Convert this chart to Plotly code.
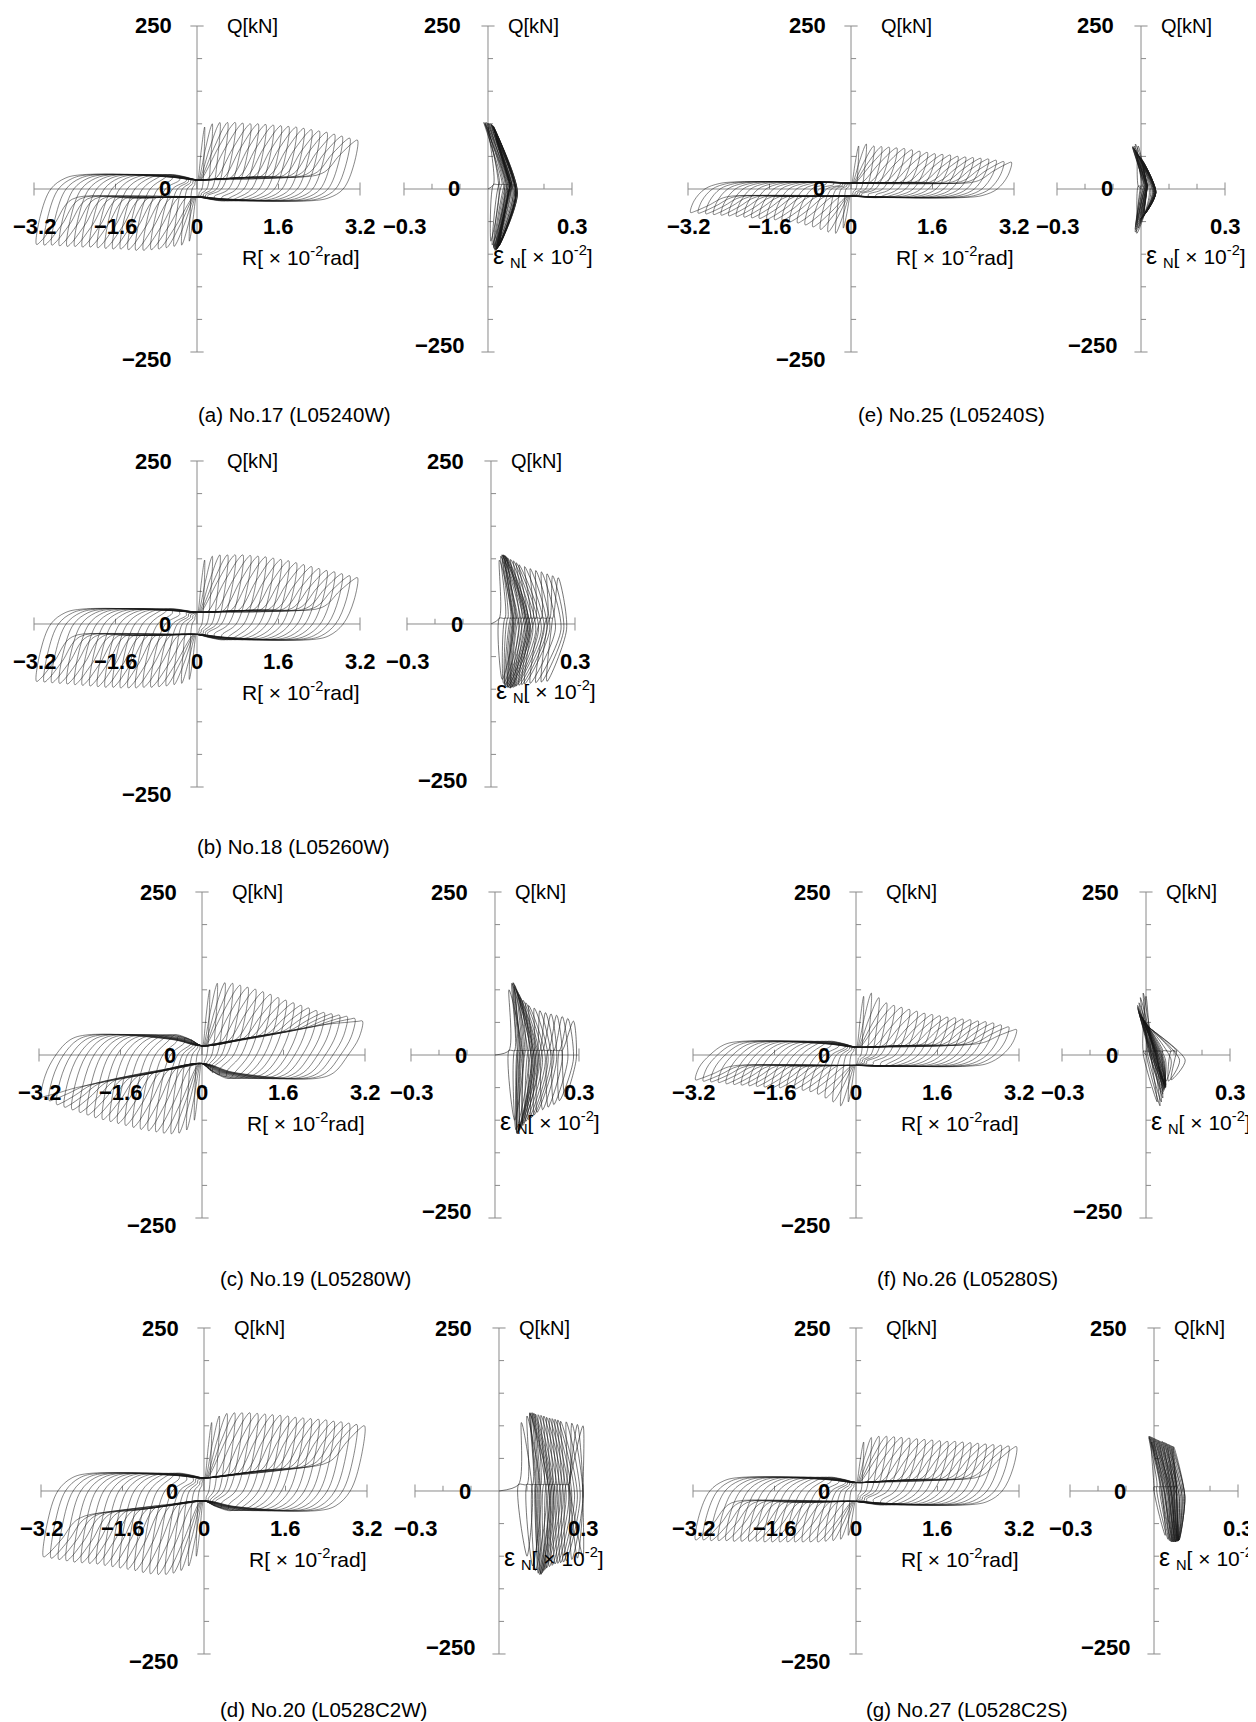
import plotly.graph_objects as go

FIG_W, FIG_H = 1256, 1722

# ---------------- data ----------------
# drift amplitude of each loading cycle  [x10^-2 rad]
R_AMP = [0.15, 0.30, 0.45, 0.60, 0.75, 0.90, 1.05, 1.20, 1.35, 1.50, 1.65,
         1.80, 1.95, 2.10, 2.25, 2.40, 2.55, 2.70, 2.85, 3.00, 3.15]

CAPTION_A = "(a) No.17 (L05240W)"
CAPTION_B = "(b) No.18 (L05260W)"
CAPTION_C = "(c) No.19 (L05280W)"
CAPTION_D = "(d) No.20 (L0528C2W)"
CAPTION_E = "(e) No.25 (L05240S)"
CAPTION_F = "(f) No.26 (L05280S)"
CAPTION_G = "(g) No.27 (L0528C2S)"

# peak shear force of each cycle, positive / negative side [kN]
QP_A = [95, 100, 102, 102, 102, 101, 100, 100, 99, 98, 97, 96, 95, 93, 91, 89, 87, 84, 81, 78, 75]
QN_A = [-80, -86, -88, -90, -92, -93, -94, -94, -93, -92, -92, -91, -90, -89, -89, -88, -88, -87, -86, -86, -85]
QP_B = [98, 104, 106, 106, 106, 106, 105, 104, 103, 101, 99, 97, 94, 91, 88, 85, 82, 80, 77, 74, 71]
QN_B = [-85, -91, -93, -95, -96, -97, -97, -98, -98, -98, -97, -97, -96, -95, -94, -93, -92, -91, -90, -89, -88]
QP_C = [100, 110, 111, 110, 107, 104, 101, 97, 93, 88, 84, 80, 76, 72, 68, 65, 63, 61, 59, 56, 52]
QN_C = [-100, -115, -120, -121, -120, -118, -116, -114, -111, -108, -105, -102, -99, -96, -92, -88, -84, -80, -76, -70, -64]
QP_D = [105, 115, 119, 120, 120, 120, 119, 118, 117, 116, 115, 113, 112, 111, 110, 109, 107, 106, 104, 102, 100]
QN_D = [-100, -115, -122, -126, -128, -128, -127, -125, -122, -120, -118, -116, -114, -112, -111, -110, -109, -107, -105, -103, -101]
QP_E = [66, 69, 66, 65, 64, 63, 62, 60, 58, 56, 54, 53, 52, 50, 49, 48, 47, 46, 44, 42, 41]
QN_E = [-60, -68, -66, -62, -58, -55, -52, -50, -48, -47, -46, -45, -44, -43, -42, -41, -40, -39, -38, -37, -36]
QP_F = [90, 95, 88, 80, 76, 73, 70, 67, 64, 62, 60, 58, 57, 55, 54, 52, 51, 49, 46, 43, 39]
QN_F = [-72, -78, -72, -66, -60, -56, -54, -52, -51, -50, -50, -49, -48, -47, -46, -45, -44, -42, -41, -40, -38]
QP_G = [75, 82, 84, 84, 83, 82, 81, 80, 79, 78, 77, 76, 76, 75, 74, 73, 72, 71, 70, 69, 68]
QN_G = [-68, -74, -76, -77, -78, -78, -78, -78, -78, -78, -78, -78, -77, -77, -77, -77, -76, -76, -76, -75, -75]

# slip plateaus [kN]: upper line at R=0, its slope, bottom of positive loops,
#                     lower line at R=0, its slope, top of negative loops
PINCH_A = [14, 4.0, -18, -12, 1.5, 22]
PINCH_B = [18, 3.0, -24, -16, 1.5, 23]
PINCH_C = [14, 13.5, -36, -13, 15.0, 31]
PINCH_D = [20, 10.0, -30, -15, 11.0, 27]
PINCH_E = [9, 1.0, -13, -11, 0.5, 11]
PINCH_F = [12, 2.5, -17, -16, 0.5, 21]
PINCH_G = [13, 4.0, -21, -16, 1.0, 21]

# axial strain eps_N [x10^-2] of each cycle at positive peak, near Q=0, at negative peak
ET_A = [0.00, -0.01, -0.015, -0.01, -0.005, 0.0, 0.005, 0.01, 0.012, 0.015, 0.018, 0.02, 0.02, 0.022, 0.024, 0.025, 0.026, 0.027, 0.028, 0.03, 0.03]
EM_A = [0.04, 0.06, 0.07, 0.08, 0.085, 0.09, 0.09, 0.095, 0.095, 0.10, 0.10, 0.10, 0.10, 0.10, 0.105, 0.105, 0.105, 0.10, 0.10, 0.10, 0.10]
EB_A = [0.01, 0.015, 0.02, 0.02, 0.022, 0.025, 0.025, 0.028, 0.03, 0.03, 0.032, 0.032, 0.035, 0.035, 0.035, 0.038, 0.038, 0.04, 0.04, 0.04, 0.04]
ET_B = [0.03, 0.035, 0.04, 0.04, 0.045, 0.045, 0.05, 0.05, 0.055, 0.06, 0.07, 0.08, 0.09, 0.10, 0.12, 0.14, 0.16, 0.18, 0.20, 0.22, 0.24]
EM_B = [0.08, 0.10, 0.11, 0.12, 0.125, 0.13, 0.13, 0.135, 0.14, 0.14, 0.15, 0.16, 0.17, 0.18, 0.19, 0.20, 0.21, 0.23, 0.25, 0.26, 0.27]
EB_B = [0.04, 0.045, 0.05, 0.05, 0.055, 0.06, 0.06, 0.065, 0.07, 0.07, 0.075, 0.08, 0.085, 0.09, 0.10, 0.11, 0.12, 0.14, 0.16, 0.18, 0.20]
ET_C = [0.05, 0.06, 0.065, 0.065, 0.07, 0.07, 0.075, 0.08, 0.085, 0.09, 0.10, 0.11, 0.12, 0.14, 0.16, 0.18, 0.20, 0.22, 0.24, 0.26, 0.28]
EM_C = [0.10, 0.12, 0.13, 0.13, 0.135, 0.14, 0.14, 0.145, 0.15, 0.155, 0.16, 0.17, 0.18, 0.19, 0.20, 0.21, 0.22, 0.24, 0.26, 0.28, 0.29]
EB_C = [0.07, 0.075, 0.078, 0.08, 0.08, 0.08, 0.085, 0.09, 0.09, 0.10, 0.10, 0.11, 0.12, 0.13, 0.14, 0.15, 0.17, 0.19, 0.21, 0.23, 0.25]
ET_D = [0.08, 0.10, 0.11, 0.11, 0.115, 0.12, 0.125, 0.13, 0.14, 0.15, 0.16, 0.17, 0.18, 0.19, 0.20, 0.21, 0.22, 0.24, 0.26, 0.28, 0.30]
EM_D = [0.12, 0.15, 0.17, 0.18, 0.18, 0.185, 0.19, 0.195, 0.20, 0.21, 0.22, 0.23, 0.24, 0.25, 0.26, 0.27, 0.28, 0.29, 0.30, 0.30, 0.30]
EB_D = [0.10, 0.12, 0.13, 0.14, 0.145, 0.15, 0.15, 0.155, 0.16, 0.165, 0.17, 0.18, 0.19, 0.20, 0.21, 0.22, 0.23, 0.24, 0.26, 0.28, 0.30]
ET_E = [-0.01, -0.02, -0.025, -0.03, -0.03, -0.028, -0.025, -0.022, -0.02, -0.018, -0.015, -0.012, -0.01, -0.008, -0.005, -0.003, 0.0, 0.002, 0.004, 0.006, 0.007]
EM_E = [0.02, 0.03, 0.035, 0.04, 0.042, 0.045, 0.045, 0.047, 0.048, 0.05, 0.05, 0.05, 0.05, 0.052, 0.052, 0.053, 0.053, 0.053, 0.053, 0.053, 0.053]
EB_E = [-0.01, -0.015, -0.02, -0.02, -0.018, -0.015, -0.012, -0.01, -0.008, -0.005, -0.003, 0.0, 0.002, 0.004, 0.006, 0.008, 0.01, 0.011, 0.012, 0.013, 0.014]
ET_F = [0.0, -0.01, -0.02, -0.025, -0.03, -0.03, -0.028, -0.026, -0.024, -0.02, -0.018, -0.015, -0.012, -0.01, -0.008, -0.005, -0.003, 0.0, 0.005, 0.01, 0.02]
EM_F = [0.02, 0.03, 0.035, 0.04, 0.04, 0.042, 0.045, 0.045, 0.047, 0.05, 0.05, 0.052, 0.055, 0.057, 0.06, 0.062, 0.065, 0.07, 0.09, 0.12, 0.14]
EB_F = [0.04, 0.05, 0.055, 0.06, 0.06, 0.062, 0.065, 0.065, 0.067, 0.068, 0.07, 0.07, 0.07, 0.07, 0.07, 0.068, 0.066, 0.065, 0.07, 0.08, 0.09]
ET_G = [-0.01, -0.018, -0.018, -0.015, -0.01, -0.005, 0.0, 0.005, 0.01, 0.015, 0.02, 0.025, 0.03, 0.035, 0.04, 0.045, 0.05, 0.055, 0.06, 0.065, 0.07]
EM_G = [0.03, 0.04, 0.05, 0.055, 0.06, 0.065, 0.065, 0.07, 0.075, 0.08, 0.08, 0.085, 0.09, 0.09, 0.095, 0.10, 0.10, 0.105, 0.11, 0.11, 0.11]
EB_G = [0.04, 0.05, 0.055, 0.06, 0.062, 0.065, 0.068, 0.07, 0.072, 0.075, 0.077, 0.078, 0.08, 0.082, 0.084, 0.085, 0.086, 0.087, 0.088, 0.089, 0.09]
# strain shift between loading and unloading branch near Q=0
ED = {"A": -0.02, "B": -0.05, "C": -0.05, "D": -0.05, "E": -0.03, "F": -0.03, "G": -0.03}

SPEC = {
    "A": (CAPTION_A, QP_A, QN_A, PINCH_A, ET_A, EM_A, EB_A),
    "B": (CAPTION_B, QP_B, QN_B, PINCH_B, ET_B, EM_B, EB_B),
    "C": (CAPTION_C, QP_C, QN_C, PINCH_C, ET_C, EM_C, EB_C),
    "D": (CAPTION_D, QP_D, QN_D, PINCH_D, ET_D, EM_D, EB_D),
    "E": (CAPTION_E, QP_E, QN_E, PINCH_E, ET_E, EM_E, EB_E),
    "F": (CAPTION_F, QP_F, QN_F, PINCH_F, ET_F, EM_F, EB_F),
    "G": (CAPTION_G, QP_G, QN_G, PINCH_G, ET_G, EM_G, EB_G),
}

# ---------------- layout (pixels) ----------------
# key: (left-plot y axis x, right-plot y axis x, zero line y, caption x, caption y)
PLACE = {
    "A": (189, 480, 181, 286, 406),
    "B": (189, 483, 616, 285, 838),
    "C": (194, 487, 1047, 307, 1270),
    "D": (196, 491, 1483, 315, 1701),
    "E": (843, 1133, 181, 943, 406),
    "F": (848, 1138, 1047, 959, 1270),
    "G": (848, 1146, 1483, 959, 1701),
}
PX_PER_UNIT_R = 163 / 3.2
PX_PER_UNIT_E = 84 / 0.3
PX_PER_KN = 163 / 250
XR_R = 3.6
XR_E = 0.34
YR = 270

FONT = "Liberation Sans Narrow, Arial Narrow, Liberation Sans, Arial, sans-serif"
LOOP_COLOR = "rgba(25,25,25,0.75)"
AXIS_COLOR = "#8a8a8a"


def loop_path(qp, qn, pinch, w=0.7):
    u0, us, lp, l0, ls, tn = pinch
    xs, ys = [0.0], [0.0]
    for R, Qp, Qn in zip(R_AMP, qp, qn):
        ww = min(w, 0.9 * R)
        f = min(1.0, 0.35 + 0.65 * R / 1.2)
        r1 = R - ww
        for sgn, Q, a0, sl, bot in ((1, Qp, u0, us, lp), (-1, Qn, l0, -ls, tn)):
            q1 = a0 + sl * r1
            end = l0 if sgn > 0 else u0
            px = [r1 * 0.5, r1, R - 0.5 * ww, R - 0.12 * ww, R,
                  R - 0.1 * ww, R - 0.4 * ww, R - 0.8 * ww,
                  max(R - 1.3 * ww, 0.45 * R), 0.2 * R, 0.0]
            for k in range(6, len(px)):
                px[k] = min(px[k], px[k - 1])
            py = [a0 + sl * r1 * 0.5, q1, q1 + 0.55 * (Q - q1), q1 + 0.93 * (Q - q1), Q,
                  0.5 * Q, 0.0, 0.75 * bot * f,
                  bot * f, 0.6 * bot * f + 0.4 * end, end]
            xs += [sgn * v for v in px]
            ys += py
    return xs, ys


def strain_path(qp, qn, pinch, et, em, eb, d):
    u0, us, lp, l0, ls, tn = pinch
    xs, ys = [0.0], [0.0]
    for Qp, Qn, a, m, b in zip(qp, qn, et, em, eb):
        xs += [m + d, a, m, b, m + d]
        ys += [0.5 * u0, Qp, 0.5 * l0, Qn, 0.5 * u0]
    return xs, ys


def axis_path(xmax, inner_ticks, ytl):
    xs, ys = [], []
    xs += [-xmax, xmax, None]; ys += [0, 0, None]
    xs += [0, 0, None]; ys += [-250, 250, None]
    for q in range(-200, 201, 50):
        if q == 0:
            continue
        xs += [0, ytl, None]; ys += [q, q, None]
    for q in (-250, 250):
        xs += [-ytl * 1.3, ytl * 1.3, None]; ys += [q, q, None]
    for x in inner_ticks:
        xs += [x, x, None]; ys += [0, 8, None]
    for x in (-xmax, xmax):
        xs += [x, x, None]; ys += [-10, 10, None]
    return xs, ys


def clamp01(v):
    return max(0.0, min(1.0, v))


fig = go.Figure()
layout = {}
annotations = []

NUM = dict(family=FONT, size=22, color="black", weight="bold")
LAB = dict(family=FONT, size=20, color="black")
AXT = dict(family=FONT, size=21, color="black")


def ann(text, x, y, xref, yref, xanchor="center", yanchor="middle", font=NUM):
    annotations.append(dict(text=text, x=x, y=y, xref=xref, yref=yref,
                            xanchor=xanchor, yanchor=yanchor, showarrow=False,
                            font=font))


for i, key in enumerate(["A", "B", "C", "D", "E", "F", "G"]):
    caption, qp, qn, pinch, et, em, eb = SPEC[key]
    xl, xr, y0, cx, cy = PLACE[key]
    nL, nR = 2 * i + 1, 2 * i + 2
    half_w_r = XR_R * PX_PER_UNIT_R
    half_w_e = XR_E * PX_PER_UNIT_E
    half_h = YR * PX_PER_KN
    ydom = [clamp01(1 - (y0 + half_h) / FIG_H), clamp01(1 - (y0 - half_h) / FIG_H)]
    for n, xc, hw, rng in ((nL, xl, half_w_r, XR_R), (nR, xr, half_w_e, XR_E)):
        sx = "" if n == 1 else str(n)
        layout["xaxis" + sx] = dict(domain=[clamp01((xc - hw) / FIG_W), clamp01((xc + hw) / FIG_W)],
                                    range=[-rng, rng], visible=False, anchor="y" + sx,
                                    fixedrange=True)
        layout["yaxis" + sx] = dict(domain=ydom, range=[-YR, YR], visible=False,
                                    anchor="x" + sx, fixedrange=True)
    xa_l = "x" if nL == 1 else "x%d" % nL
    ya_l = "y" if nL == 1 else "y%d" % nL
    xa_r, ya_r = "x%d" % nR, "y%d" % nR

    # axes
    ax, ay = axis_path(3.2, [-1.6, 1.6], 0.1)
    fig.add_trace(go.Scatter(x=ax, y=ay, mode="lines", xaxis=xa_l, yaxis=ya_l,
                             line=dict(color=AXIS_COLOR, width=1), hoverinfo="skip",
                             showlegend=False))
    ax, ay = axis_path(0.3, [-0.2, -0.1, 0.1, 0.2], 0.018)
    fig.add_trace(go.Scatter(x=ax, y=ay, mode="lines", xaxis=xa_r, yaxis=ya_r,
                             line=dict(color=AXIS_COLOR, width=1), hoverinfo="skip",
                             showlegend=False))

    # hysteresis loops
    lx, ly = loop_path(qp, qn, pinch)
    fig.add_trace(go.Scatter(x=lx, y=ly, mode="lines", xaxis=xa_l, yaxis=ya_l,
                             line=dict(color=LOOP_COLOR, width=0.7, shape="spline",
                                       smoothing=1.0),
                             hoverinfo="skip", showlegend=False))
    sxs, sys_ = strain_path(qp, qn, pinch, et, em, eb, ED[key])
    fig.add_trace(go.Scatter(x=sxs, y=sys_, mode="lines", xaxis=xa_r, yaxis=ya_r,
                             line=dict(color=LOOP_COLOR, width=0.8, shape="spline",
                                       smoothing=0.8),
                             hoverinfo="skip", showlegend=False))

    # left plot labels
    ann("250", -0.45, 250, xa_l, ya_l, xanchor="right")
    ann("−250", -0.45, -262, xa_l, ya_l, xanchor="right")
    ann("Q[kN]", 0.55, 250, xa_l, ya_l, xanchor="left", font=LAB)
    ann("0", -0.62, 0, xa_l, ya_l)
    for v, t in ((-3.2, "−3.2"), (-1.6, "−1.6"), (0, "0"), (1.6, "1.6"), (3.2, "3.2")):
        ann(t, v, -58, xa_l, ya_l)
    ann("R[ × 10<sup>-2</sup>rad]", 0.85, -103, xa_l, ya_l, xanchor="left", font=AXT)

    # right plot labels
    ann("250", -0.09, 250, xa_r, ya_r, xanchor="right")
    ann("−250", -0.075, -240, xa_r, ya_r, xanchor="right")
    ann("Q[kN]", 0.065, 250, xa_r, ya_r, xanchor="left", font=LAB)
    ann("0", -0.12, 0, xa_r, ya_r)
    ann("−0.3", -0.3, -58, xa_r, ya_r)
    ann("0.3", 0.3, -58, xa_r, ya_r)
    ann('<span style="font-size:25px">ε</span> <sub>N</sub>[ × 10<sup>-2</sup>]',
        0.012, -103, xa_r, ya_r, xanchor="left", font=AXT)

    # caption
    annotations.append(dict(text=caption, x=cx / FIG_W, y=1 - cy / FIG_H,
                            xref="paper", yref="paper", xanchor="center",
                            yanchor="middle", showarrow=False,
                            font=dict(family=FONT, size=20.5, color="black")))

fig.update_layout(width=FIG_W, height=FIG_H, margin=dict(l=0, r=0, t=0, b=0),
                  paper_bgcolor="white", plot_bgcolor="white",
                  annotations=annotations, **layout)

fig.write_html("out.html")
